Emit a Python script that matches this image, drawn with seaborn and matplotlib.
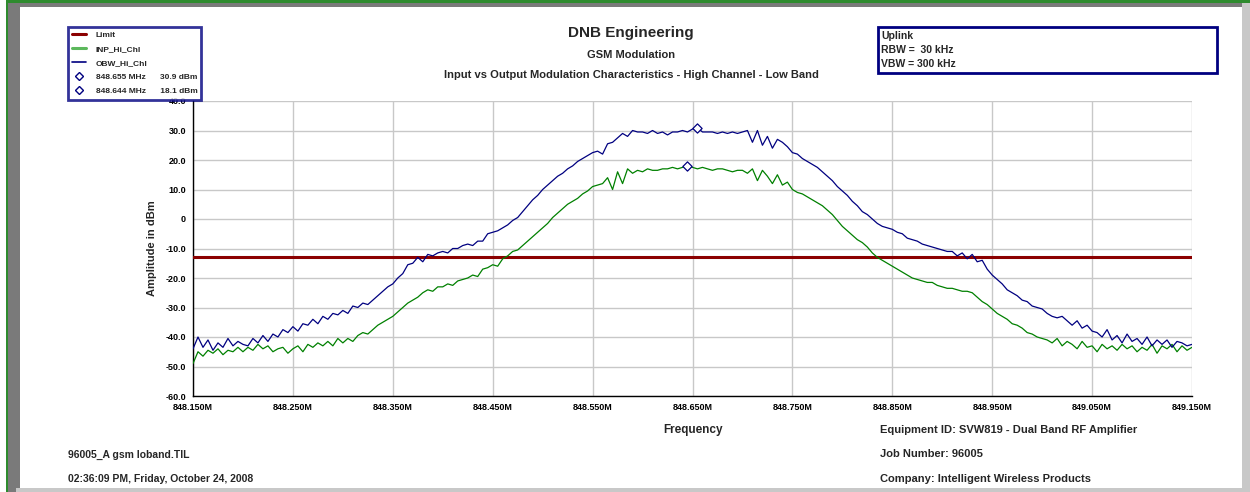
import numpy as np
import pandas as pd
import matplotlib
matplotlib.use("Agg")
import matplotlib.pyplot as plt
import matplotlib.ticker as mticker
from matplotlib.lines import Line2D
from matplotlib.patches import Rectangle
import seaborn as sns

# ── Data (5 kHz steps) ────────────────────────────────────────────────────────
FREQ_START = 848.150
FREQ_STEP = 0.005

obw_hi_chl = [
    -44, -40, -43.5, -41, -44.5,
    -42, -43.5, -40.5, -43, -41.5,
    -42.5, -43, -40.5, -42, -39.5,
    -41.5, -39, -40, -37.5, -38.5,
    -36.5, -38, -35.5, -36, -34,
    -35.5, -33, -34, -32, -32.5,
    -31, -32, -29.5, -30, -28.5,
    -29, -27.5, -26, -24.5, -23,
    -22, -20, -18.5, -15.5, -15,
    -13, -14.5, -12, -12.5, -11.5,
    -11, -11.5, -10, -10, -9,
    -8.5, -9, -7.5, -7.5, -5,
    -4.5, -4, -3, -2, -0.5,
    0.5, 2.5, 4.5, 6.5, 8,
    10, 11.5, 13, 14.5, 15.5,
    17, 18, 19.5, 20.5, 21.5,
    22.5, 23, 22, 25.5, 26,
    27.5, 29, 28, 30, 29.5,
    29.5, 29, 30, 29, 29.5,
    28.5, 29.5, 29.5, 30, 29.5,
    30.5, 30.9, 29.5, 29.5, 29.5,
    29, 29.5, 29, 29.5, 29,
    29.5, 30, 26, 30, 25,
    28, 24, 27, 26, 24.5,
    22.5, 22, 20.5, 19.5, 18.5,
    17.5, 16, 14.5, 13, 11,
    9.5, 8, 6, 4.5, 2.5,
    1.5, 0, -1.5, -2.5, -3,
    -3.5, -4.5, -5, -6.5, -7,
    -7.5, -8.5, -9, -9.5, -10,
    -10.5, -11, -11, -12.5, -11.5,
    -13.5, -12, -14.5, -14, -17,
    -19, -20.5, -22, -24, -25,
    -26, -27.5, -28, -29.5, -30,
    -30.5, -32, -33, -33.5, -33,
    -34.5, -36, -34.5, -37, -36,
    -38, -38.5, -40, -37.5, -41,
    -39.5, -42, -39, -41.5, -40.5,
    -42.5, -40, -43, -41, -42.5,
    -41, -43.5, -41.5, -42, -43,
    -42.5,
]

inp_hi_chl = [
    -49, -45, -46.5, -44.5, -45.5,
    -44, -46, -44.5, -45, -43.5,
    -45, -43.5, -44.5, -42.5, -44,
    -43, -45, -44, -43.5, -45.5,
    -44, -43, -45, -42.5, -43.5,
    -42, -43, -41.5, -43, -40.5,
    -42, -40.5, -41.5, -39.5, -38.5,
    -39, -37.5, -36, -35, -34,
    -33, -31.5, -30, -28.5, -27.5,
    -26.5, -25, -24, -24.5, -23,
    -23, -22, -22.5, -21, -20.5,
    -20, -19, -19.5, -17, -16.5,
    -15.5, -16, -13.5, -12.5, -11,
    -10.5, -9, -7.5, -6, -4.5,
    -3, -1.5, 0.5, 2, 3.5,
    5, 6, 7, 8.5, 9.5,
    11, 11.5, 12, 14, 10,
    16, 12, 17, 15.5, 16.5,
    16, 17, 16.5, 16.5, 17,
    17, 17.5, 17, 17.5, 18.1,
    17.5, 17, 17.5, 17, 16.5,
    17, 17, 16.5, 16, 16.5,
    16.5, 15.5, 17, 13, 16.5,
    14.5, 12, 15, 11.5, 12.5,
    10, 9, 8.5, 7.5, 6.5,
    5.5, 4.5, 3, 1.5, -0.5,
    -2.5, -4, -5.5, -7, -8,
    -9.5, -11.5, -13, -14, -15,
    -16, -17, -18, -19, -20,
    -20.5, -21, -21.5, -21.5, -22.5,
    -23, -23.5, -23.5, -24, -24.5,
    -24.5, -25, -26.5, -28, -29,
    -30.5, -32, -33, -34, -35.5,
    -36, -37, -38.5, -39, -40,
    -40.5, -41, -42, -40.5, -43,
    -41.5, -42.5, -44, -41.5, -43.5,
    -43, -45, -42.5, -44, -43,
    -44.5, -42.5, -44, -43, -45,
    -43.5, -44.5, -42.5, -45.5, -43,
    -44, -42.5, -45, -43, -44.5,
    -43.5,
]

limit_dbm = -13.0
marker_freq = [848.655, 848.644]
marker_dbm = [30.9, 18.1]

freq = [round(FREQ_START + i * FREQ_STEP, 3) for i in range(len(obw_hi_chl))]
df = pd.DataFrame({"freq": freq, "obw": obw_hi_chl, "inp": inp_hi_chl})

x_ticks = [848.150, 848.250, 848.350, 848.450, 848.550, 848.650,
           848.750, 848.850, 848.950, 849.050, 849.150]
y_ticks = [40, 30, 20, 10, 0, -10, -20, -30, -40, -50, -60]

# ── Style ─────────────────────────────────────────────────────────────────────
sns.set_style("white")
plt.rcParams["font.family"] = ["Liberation Sans", "DejaVu Sans"]
plt.rcParams["font.weight"] = "bold"

NAVY = "#000080"
GREEN = "#008000"
DKRED = "#8B0000"
GRID = "#c8c8c8"

W, H = 1250, 492
fig = plt.figure(figsize=(12.5, 4.92), dpi=100)
ax = fig.add_axes([193 / W, 1 - 396 / H, (1192 - 193) / W, (396 - 101) / H])

# traces
ax.axhline(limit_dbm, color=DKRED, lw=2.2, zorder=3)
sns.lineplot(data=df, x="freq", y="inp", ax=ax, color=GREEN, lw=0.9, zorder=4)
sns.lineplot(data=df, x="freq", y="obw", ax=ax, color=NAVY, lw=0.9, zorder=5)
ax.scatter(marker_freq, marker_dbm, marker="D", s=22, facecolors="white",
           edgecolors=NAVY, linewidths=0.9, zorder=6)

# axes
ax.set_xlim(x_ticks[0], x_ticks[-1])
ax.set_ylim(-60, 40)
ax.set_xticks(x_ticks)
ax.set_yticks(y_ticks)
ax.xaxis.set_minor_locator(mticker.MultipleLocator(0.05))
ax.yaxis.set_minor_locator(mticker.MultipleLocator(5))
ax.xaxis.set_major_formatter(mticker.FuncFormatter(lambda v, _: f"{v:.3f}M"))
ax.yaxis.set_major_formatter(
    mticker.FuncFormatter(lambda v, _: "0" if abs(v) < 1e-9 else f"{v:.1f}"))
ax.grid(True, which="major", color=GRID, lw=1.0)
for side in ("top", "right"):
    ax.spines[side].set_visible(False)
for side in ("left", "bottom"):
    ax.spines[side].set_color("black")
    ax.spines[side].set_linewidth(1.0)
ax.tick_params(which="major", direction="inout", length=8, width=1,
               labelsize=6.5, pad=1, colors="black")
ax.tick_params(which="minor", direction="inout", length=5, width=1, colors="black")
for lbl in ax.get_xticklabels() + ax.get_yticklabels():
    lbl.set_fontweight("bold")

ax.set_xlabel("Frequency", fontsize=8.5, fontweight="bold", labelpad=9)
ax.set_ylabel("Amplitude in dBm", fontsize=8, fontweight="bold", labelpad=6)

# titles
fig.text(631 / W, 1 - 33 / H, "DNB Engineering", ha="center", va="center",
         fontsize=11, fontweight="bold")
fig.text(631 / W, 1 - 55 / H, "GSM Modulation", ha="center", va="center",
         fontsize=8, fontweight="bold")
fig.text(631 / W, 1 - 75 / H,
         "Input vs Output Modulation Characteristics - High Channel - Low Band",
         ha="center", va="center", fontsize=8, fontweight="bold")

# legend (top left)
handles = [
    Line2D([], [], color=DKRED, lw=2.2),
    Line2D([], [], color="#5cb85c", lw=2.2),
    Line2D([], [], color=NAVY, lw=1.2),
    Line2D([], [], ls="none", marker="D", ms=4.5, mfc="white", mec=NAVY, mew=1),
    Line2D([], [], ls="none", marker="D", ms=4.5, mfc="white", mec=NAVY, mew=1),
]
labels = ["Limit", "INP_Hi_Chl", "OBW_Hi_Chl",
          "848.655 MHz      30.9 dBm", "848.644 MHz      18.1 dBm"]
leg = fig.legend(handles, labels, loc="upper left",
                 bbox_to_anchor=(68 / W, 1 - 27 / H), fontsize=6,
                 frameon=True, fancybox=False, handlelength=1.6,
                 handletextpad=1.2, labelspacing=0.75, borderpad=0.5,
                 borderaxespad=0)
leg.get_frame().set_edgecolor(NAVY)
leg.get_frame().set_linewidth(2)
for t in leg.get_texts():
    t.set_fontweight("bold")

# RBW / VBW box (top right)
fig.patches.append(Rectangle((878 / W, 1 - 73 / H), (1217 - 878) / W, 46 / H,
                             transform=fig.transFigure, fill=False,
                             edgecolor=NAVY, lw=2))
for i, s in enumerate(["Uplink", "RBW =  30 kHz", "VBW = 300 kHz"]):
    fig.text(881 / W, 1 - (36 + i * 14) / H, s, ha="left", va="center",
             fontsize=7.5, fontweight="bold")

# footer
fig.text(68 / W, 1 - 455 / H, "96005_A gsm loband.TIL", ha="left", va="center",
         fontsize=7.5, fontweight="bold")
fig.text(68 / W, 1 - 479 / H, "02:36:09 PM, Friday, October 24, 2008",
         ha="left", va="center", fontsize=7.5, fontweight="bold")
for y, s in [(430, "Equipment ID: SVW819 - Dual Band RF Amplifier"),
             (454, "Job Number: 96005"),
             (479, "Company: Intelligent Wireless Products")]:
    fig.text(880 / W, 1 - y / H, s, ha="left", va="center",
             fontsize=8, fontweight="bold")

# window frame
frame = [
    ((8 / W, 0), 12 / W, 1 - 3 / H, "#7a7a7a"),          # left dark bar
    ((8 / W, 1 - 7 / H), 1234 / W, 4 / H, "#7a7a7a"),     # top dark bar
    ((6 / W, 0), 2 / W, 1, "#2e8b2e"),                   # left green edge
    ((6 / W, 1 - 3 / H), 1244 / W, 3 / H, "#2e8b2e"),     # top green edge
    ((1242 / W, 0), 8 / W, 1 - 3 / H, "#c8c8c8"),         # right light bar
    ((16 / W, 0), 1230 / W, 4 / H, "#c8c8c8"),            # bottom light bar
]
for xy, w, h, c in frame:
    fig.patches.append(Rectangle(xy, w, h, transform=fig.transFigure,
                                 facecolor=c, edgecolor="none", zorder=0))

fig.savefig("out.png", dpi=100)
